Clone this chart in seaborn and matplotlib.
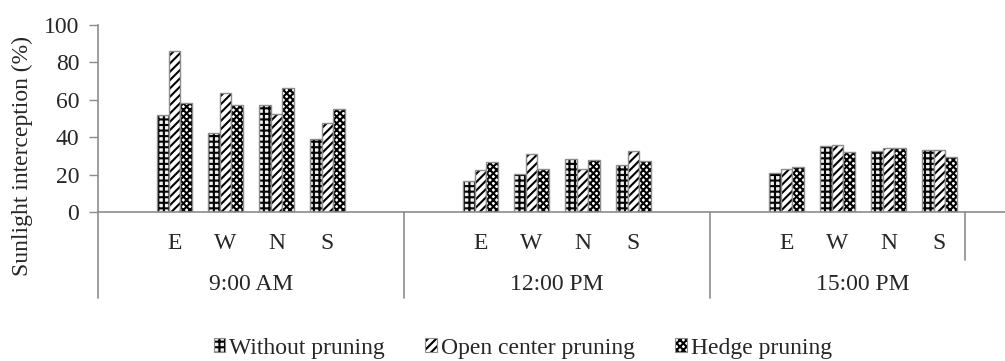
#!/usr/bin/env python3
import matplotlib
matplotlib.use('Agg')
import matplotlib.pyplot as plt
import matplotlib.transforms as mtransforms
from matplotlib.colors import to_rgba
from matplotlib.patches import Patch
import pandas as pd
import seaborn as sns

times = ['9:00 AM', '12:00 PM', '15:00 PM']
directions = ['E', 'W', 'N', 'S']
treatments = ['Without pruning', 'Open center pruning', 'Hedge pruning']

# sunlight interception (%), ordered 9:00 E,W,N,S / 12:00 E,W,N,S / 15:00 E,W,N,S
without_pruning = [52, 42.5, 57, 39, 16.5, 20.5, 28.5, 25, 21, 35.5, 32.5, 33]
open_center = [86, 63.5, 52.5, 47.5, 22.5, 31, 23, 32.5, 23, 36, 34, 33]
hedge = [58.5, 57, 66.5, 55, 26.5, 23, 28, 27.5, 24, 32, 34, 29.5]

# Excel-style layout: each time block has an empty slot before and after E..S
slots = []
slot_labels = []
for t in times:
    slots += [f'{t} pad0'] + [f'{t} {d}' for d in directions] + [f'{t} pad1']
    slot_labels += [''] + directions + ['']

rows = []
for name, vals in zip(treatments, [without_pruning, open_center, hedge]):
    i = 0
    for t in times:
        for d in directions:
            rows.append({'slot': f'{t} {d}', 'treatment': name, 'value': vals[i]})
            i += 1
df = pd.DataFrame(rows)

sns.set_style('white')
plt.rcParams['font.family'] = ['Liberation Serif', 'DejaVu Serif']
plt.rcParams['hatch.linewidth'] = 1.5

fills = {'Without pruning': '#efefef', 'Open center pruning': 'white', 'Hedge pruning': 'white'}
hatches = ['+++', '////', 'xxxxx']
edge = '#8c8c8c'
black = to_rgba('black')
fs = 17

fig = plt.figure(figsize=(10.05, 3.61), dpi=100)
ax = fig.add_axes([98 / 1005, 1 - 212 / 361, 918 / 1005, 187 / 361])

sns.barplot(data=df, x='slot', y='value', hue='treatment', order=slots,
            hue_order=treatments, palette=fills, width=0.675, saturation=1,
            errorbar=None, legend=False, ax=ax)

for cont, h in zip(ax.containers, hatches):
    for p in cont:
        p.set_hatch(h)
        p.set_edgecolor(edge)
        p.set_linewidth(1.0)
        p._hatch_color = black

ax.set_xlim(-0.5, len(slots) - 0.5)
ax.set_ylim(0, 100)
ax.set_yticks(range(0, 101, 20))
ax.set_xticks(range(len(slots)))
ax.set_xticklabels(slot_labels, fontsize=fs)
ax.tick_params(axis='x', length=0, pad=15)
ax.tick_params(axis='y', length=6.5, width=1, color=edge, pad=7, labelsize=fs, left=True)
ax.set_xlabel('')
ax.set_ylabel('Sunlight interception (%)', fontsize=fs)
ax.yaxis.set_label_coords(-0.071, 0.30)

sns.despine(ax=ax, top=True, right=True)
for s in ['left', 'bottom']:
    ax.spines[s].set_color(edge)
    ax.spines[s].set_linewidth(1.2)

trans = mtransforms.blended_transform_factory(ax.transData, ax.transAxes)
for i, t in enumerate(times):
    ax.text(6 * i + 2.5, -0.39, t, transform=trans, ha='center', va='center', fontsize=fs)
for x in [-0.5, 5.5, 11.5]:
    ax.plot([x, x], [0, -0.46], transform=trans, color=edge, lw=1.2, clip_on=False)
ax.plot([16.5, 16.5], [0, -0.257], transform=trans, color=edge, lw=1.2, clip_on=False)

handles = [Patch(facecolor=fills[n], edgecolor=edge, hatch=h, linewidth=0.8, label=n)
           for n, h in zip(treatments, hatches)]
leg = fig.legend(handles=handles, loc='center', bbox_to_anchor=(0.520, 0.036), ncol=3,
                 frameon=False, fontsize=fs, handlelength=0.5, handleheight=0.5,
                 handletextpad=0.15, columnspacing=1.72, borderpad=0)
for h in leg.legend_handles:
    h._hatch_color = black

fig.savefig('out.png', dpi=100)
